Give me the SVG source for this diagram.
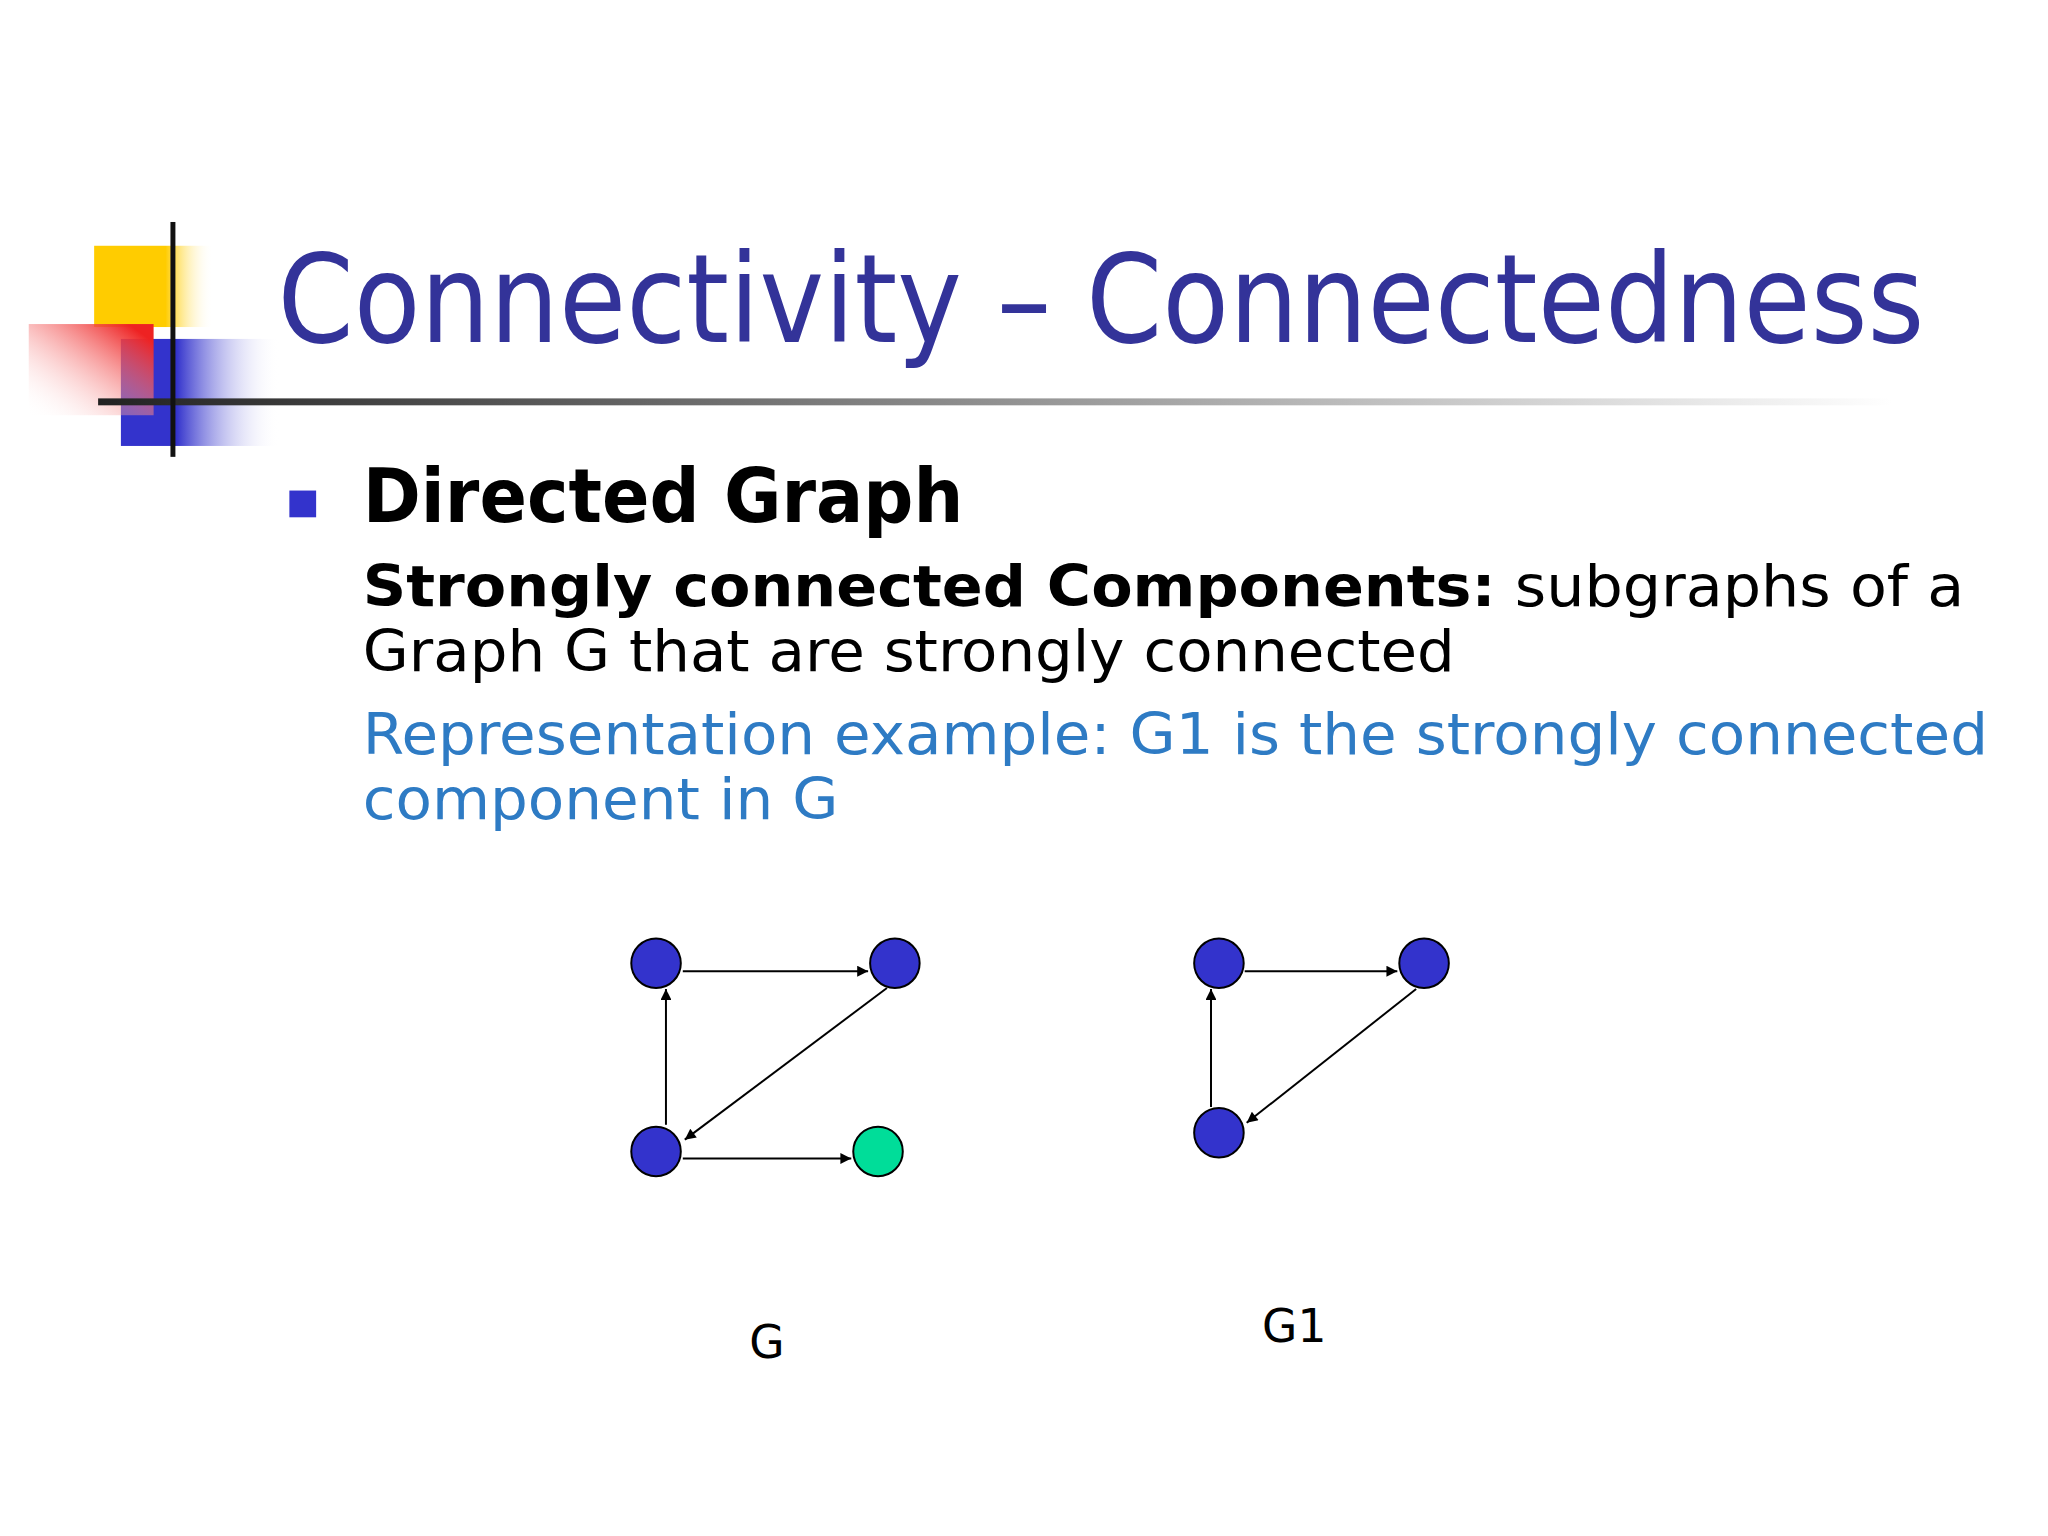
<svg xmlns="http://www.w3.org/2000/svg" width="2048" height="1536" viewBox="0 0 2048 1536">
<style>
.n{fill:#3333cc;stroke:#000;stroke-width:2}
.e{stroke:#000;stroke-width:2;fill:none;marker-end:url(#a)}
.t{font-family:"DejaVu Sans",Verdana,sans-serif}
</style>
<defs>
<marker id="a" viewBox="0 0 10 10" refX="10" refY="5" markerWidth="13" markerHeight="11" markerUnits="userSpaceOnUse" orient="auto"><path d="M0,0L10,5L0,10z"/></marker>
<linearGradient id="red" x1="1" y1="0" x2="0" y2="1"><stop offset="0.1" stop-color="#ee2222"/><stop offset="1" stop-color="#fff" stop-opacity="0"/></linearGradient>
<linearGradient id="blue" x1="0" y1="0" x2="1" y2="0"><stop offset="0.35" stop-color="#3333cc"/><stop offset="1" stop-color="#fff" stop-opacity="0"/></linearGradient>
<linearGradient id="yel" x1="0" y1="0" x2="1" y2="0"><stop offset="0.6" stop-color="#ffcc00"/><stop offset="1" stop-color="#fff" stop-opacity="0"/></linearGradient>
<linearGradient id="ln" x1="0" y1="0" x2="1" y2="0"><stop offset="0" stop-color="#222"/><stop offset="1" stop-color="#fff"/></linearGradient>
</defs>
<g transform="scale(0.991)">
<g id="logo">
<rect x="95" y="248" width="120" height="82" fill="url(#yel)"/>
<rect x="122" y="342" width="160" height="108" fill="url(#blue)"/>
<rect x="29" y="327" width="126" height="92" fill="url(#red)"/>
<rect x="99" y="402" width="1810" height="7" fill="url(#ln)"/>
<rect x="172" y="224" width="5" height="237" fill="#111"/>
</g>
<text class="t" x="280" y="345" font-size="124" fill="#333399" textLength="1662" lengthAdjust="spacingAndGlyphs">Connectivity – Connectedness</text>
<rect x="292" y="495" width="27" height="27" fill="#3333cc"/>
<text class="t" x="366" y="527" font-size="76" font-weight="bold" textLength="606" lengthAdjust="spacingAndGlyphs">Directed Graph</text>
<text class="t" x="366" y="612" font-size="58" textLength="1616" lengthAdjust="spacingAndGlyphs"><tspan font-weight="bold">Strongly connected Components:</tspan> subgraphs of a</text>
<text class="t" x="366" y="677" font-size="58" textLength="1102" lengthAdjust="spacingAndGlyphs">Graph G that are strongly connected</text>
<text class="t" x="366" y="761" font-size="58" fill="#2e7bc4" textLength="1640" lengthAdjust="spacingAndGlyphs">Representation example: G1 is the strongly connected</text>
<text class="t" x="366" y="826" font-size="58" fill="#2e7bc4" textLength="480" lengthAdjust="spacingAndGlyphs">component in G</text>
<g id="connectors">
<line class="e" x1="689" y1="980" x2="876" y2="980"/>
<line class="e" x1="672" y1="1135" x2="672" y2="998"/>
<line class="e" x1="895" y1="997" x2="691" y2="1150"/>
<line class="e" x1="689" y1="1169" x2="859" y2="1169"/>
<line class="e" x1="1256" y1="980" x2="1410" y2="980"/>
<line class="e" x1="1222" y1="1117" x2="1222" y2="998"/>
<line class="e" x1="1429" y1="998" x2="1258" y2="1133"/>
</g>
<g id="g_a"><circle class="n" cx="662" cy="972" r="25"/></g>
<g id="g_b"><circle class="n" cx="903" cy="972" r="25"/></g>
<g id="g_c"><circle class="n" cx="662" cy="1162" r="25"/></g>
<g id="g_d"><circle cx="886" cy="1162" r="25" fill="#00dd99" stroke="#000" stroke-width="2"/></g>
<g id="g1_a"><circle class="n" cx="1230" cy="972" r="25"/></g>
<g id="g1_b"><circle class="n" cx="1437" cy="972" r="25"/></g>
<g id="g1_c"><circle class="n" cx="1230" cy="1143" r="25"/></g>
<text class="t" x="774" y="1370" font-size="46" text-anchor="middle">G</text>
<text class="t" x="1306" y="1354" font-size="46" text-anchor="middle">G1</text>
</g>
</svg>
